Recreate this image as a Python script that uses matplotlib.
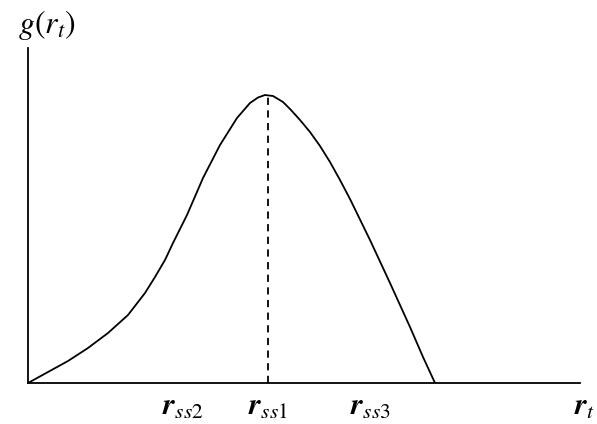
import matplotlib
matplotlib.use("Agg")
import matplotlib.pyplot as plt

plt.rcParams['mathtext.fontset'] = 'stix'
plt.rcParams['font.family'] = ['Liberation Serif', 'DejaVu Serif']

# curve g(r_t) (arbitrary units)
curve_x = [0, 20, 40, 60, 80, 100, 117, 127, 137, 145, 159, 175, 192, 209, 222, 230, 237, 245,
           255, 263, 272, 282, 292, 302, 312, 322, 342, 362, 382, 395, 407]
curve_y = [0, 11, 22, 35, 50, 68, 90, 106, 123, 140, 168, 205, 238, 265, 280, 285.5, 288, 287,
           281, 273, 263, 251, 237, 221, 203, 184, 143, 100, 56, 26, 0]

peak_x = 240
peak_y = 288

label_subs = ['ss2', 'ss1', 'ss3']
label_x = [155, 240, 342]

fig = plt.figure(figsize=(5.97, 4.24), dpi=100)
ax = fig.add_axes([28/597, (424-383)/424, (580-28)/597, (383-48)/424])
ax.set_xlim(0, 552)
ax.set_ylim(0, 335)

ax.plot(curve_x, curve_y, color='black', lw=1.3, solid_joinstyle='round')
ax.plot([peak_x, peak_x], [0, peak_y], color='black', lw=1.3, linestyle=(0, (4, 3)))

for s in ['top', 'right']:
    ax.spines[s].set_visible(False)
for s in ['left', 'bottom']:
    ax.spines[s].set_linewidth(1.3)
ax.set_xticks([])
ax.set_yticks([])

for sub, x in zip(label_subs, label_x):
    ax.text(x, -24, r'$\boldsymbol{r}_{' + sub + '}$', ha='center', va='center',
            fontsize=22, clip_on=False)

ax.text(557, -24, r'$\boldsymbol{r}_t$', ha='center', va='center', fontsize=22, clip_on=False)
ax.text(19, 358, r'$g(r_t)$', ha='center', va='center', fontsize=23, clip_on=False)

fig.savefig('out.png', dpi=100)
